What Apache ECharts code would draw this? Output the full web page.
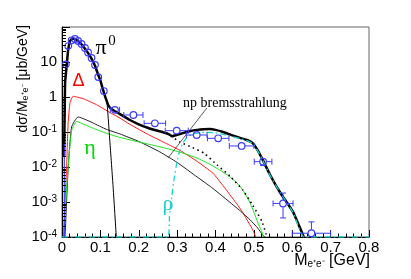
<!DOCTYPE html>
<html><head><meta charset="utf-8">
<script src="https://cdn.jsdelivr.net/npm/echarts@6.0.0/dist/echarts.min.js"></script>
<style>html,body{margin:0;padding:0;background:#fff}#c{width:411px;height:279px}</style>
</head><body><div id="c"></div>
<script>
// ---- tick labels ----
const xTickValues = [0, 0.1, 0.2, 0.3, 0.4, 0.5, 0.6, 0.7, 0.8];
const xTickLabels = ['0', '0.1', '0.2', '0.3', '0.4', '0.5', '0.6', '0.7', '0.8'];
const yTickExps = [-4, -3, -2, -1, 0, 1, 2];
const yTickLabels = ['10^-4', '10^-3', '10^-2', '10^-1', '1', '10', ''];

// ---- model curves [M (GeV), dσ/dM (µb/GeV)] ----
const totalCurve = [[0.0055,0.02],[0.008,2.5],[0.012,7.5],[0.016,22],[0.021,40],[0.027,47],[0.034,45],[0.042,39],[0.051,32],[0.06,24],[0.068,18],[0.077,12.5],[0.086,7.8],[0.094,4.4],[0.1,3.0],[0.105,1.9],[0.11,1.25],[0.115,0.85],[0.12,0.6],[0.126,0.48],[0.135,0.41],[0.15,0.33],[0.177,0.22],[0.2,0.165],[0.225,0.13],[0.247,0.11],[0.265,0.097],[0.279,0.086],[0.287,0.076],[0.3,0.083],[0.315,0.093],[0.335,0.107],[0.352,0.115],[0.37,0.12],[0.385,0.121],[0.4,0.115],[0.42,0.1],[0.44,0.083],[0.464,0.068],[0.48,0.06],[0.497,0.048],[0.51,0.03],[0.523,0.016],[0.542,0.006],[0.568,0.0019],[0.602,0.00052],[0.63,0.0001]];
const pi0Curve = [[0.0055,0.02],[0.008,2.4],[0.012,7.3],[0.016,21],[0.021,39],[0.027,46],[0.034,44],[0.042,38],[0.051,31],[0.06,23],[0.068,17.5],[0.077,12],[0.086,7.5],[0.094,4.2],[0.1,2.9],[0.105,1.8],[0.11,1.2],[0.117,0.75],[0.125,0.049],[0.133,0.0029],[0.1415,0.0001]];
const deltaCurve = [[0.004,0.0001],[0.012,0.01],[0.016,0.18],[0.021,0.7],[0.029,1.05],[0.038,1.0],[0.055,0.9],[0.09,0.6],[0.125,0.36],[0.151,0.25],[0.177,0.165],[0.229,0.08],[0.27,0.048],[0.307,0.03],[0.35,0.015],[0.393,0.0067],[0.42,0.0029],[0.4375,0.0016],[0.455,0.0009],[0.471,0.0005],[0.487,0.00025],[0.497,0.00016],[0.505,0.0001]];
const npCurve = [[0.008,0.0001],[0.016,0.009],[0.025,0.14],[0.042,0.27],[0.06,0.23],[0.0815,0.18],[0.115,0.12],[0.151,0.088],[0.203,0.052],[0.255,0.027],[0.3,0.0135],[0.352,0.0052],[0.39,0.0026],[0.43,0.00115],[0.465,0.00055],[0.49,0.00031],[0.51,0.00018],[0.523,0.000114],[0.529,0.0001]];
const etaCurve = [[0.005,0.0001],[0.01,0.0011],[0.016,0.01],[0.025,0.11],[0.038,0.2],[0.06,0.16],[0.0815,0.128],[0.115,0.092],[0.151,0.07],[0.2,0.052],[0.263,0.036],[0.31,0.026],[0.352,0.018],[0.385,0.012],[0.411,0.0082],[0.435,0.0055],[0.456,0.0035],[0.47,0.0023],[0.482,0.0014],[0.493,0.0008],[0.503,0.00042],[0.513,0.00022],[0.521,0.00014],[0.524,0.0001]];
const noRhoCurve = [[0.273,0.093],[0.286,0.074],[0.307,0.052],[0.34,0.036],[0.37,0.025],[0.404,0.0115],[0.4375,0.0055],[0.471,0.0022],[0.497,0.0008],[0.521,0.00028],[0.534,0.0001]];
const rhoCurve = [[0,0.0001],[0.276,0.0001],[0.28,0.0004],[0.286,0.0014],[0.292,0.0045],[0.299,0.013],[0.307,0.03],[0.315,0.049],[0.328,0.075],[0.345,0.09],[0.37,0.098],[0.398,0.095],[0.42,0.086],[0.4375,0.077],[0.464,0.065],[0.48,0.058],[0.497,0.047],[0.51,0.029],[0.523,0.0155],[0.542,0.0058],[0.568,0.0019],[0.602,0.00051],[0.63,0.0001],[0.8,0.0001]];

// ---- measured points ----
const obsM    = [0.006, 0.01, 0.0164, 0.025, 0.034, 0.042, 0.051, 0.06, 0.068, 0.077, 0.086, 0.0945, 0.109, 0.138, 0.186, 0.242, 0.299, 0.351, 0.407, 0.468, 0.524, 0.576, 0.65];
const obsY    = [0.00005, 8.5, 28.6, 41.7, 45.4, 39.8, 32.7, 25.1, 18.7, 13, 8.2, 3.7, 1.48, 0.43, 0.306, 0.177, 0.109, 0.082, 0.066, 0.04, 0.0142, 0.00091, 0.000128];
const obsMErr = [0.003, 0.003, 0.003, 0.004, 0.004, 0.004, 0.004, 0.004, 0.004, 0.004, 0.004, 0.004, 0.005, 0.012, 0.025, 0.028, 0.03, 0.027, 0.028, 0.032, 0.023, 0.026, 0.05];
const obsYLo  = [0.00001, 8, 27.5, 40.5, 44, 38.5, 31.5, 24, 18, 12.4, 7.8, 3.5, 1.4, 0.4, 0.29, 0.168, 0.103, 0.077, 0.061, 0.036, 0.011, 0.00035, 0.00001];
const obsYHi  = [0.049, 9, 29.7, 43, 46.8, 41, 34, 26.2, 19.4, 13.6, 8.6, 3.9, 1.56, 0.46, 0.322, 0.186, 0.115, 0.087, 0.071, 0.044, 0.018, 0.0018, 0.00027];

// ---- annotation leader (data coords) ----
const leaderLine = [[0.3776, 0.485], [0.276, 0.018]];

const Y_MIN = 1e-4, Y_MAX = 100;
const yMinorVals = [];
for (let e = -4; e < 2; e++) for (let k = 2; k <= 9; k++) yMinorVals.push(k * Math.pow(10, e));

const BLUE = '#3b3bff', RED = '#ff1a1a', GREEN = '#1ee01e', CYAN = '#19d4d4';
const SANS = '"Liberation Sans", Arial, sans-serif';
const SERIF = '"Liberation Serif", "Times New Roman", serif';

function lineSeries(data, color, width, type, z, smooth) {
  return { type: 'line', data, showSymbol: false, symbol: 'none', smooth: smooth == null ? 0.15 : smooth,
    lineStyle: { color, width, type: type || 'solid', join: 'round' }, z: z || 2, silent: true, animation: false };
}

const chart = echarts.init(document.getElementById('c'), null, { renderer: 'canvas' });
chart.setOption({
  animation: false,
  backgroundColor: '#fff',
  grid: { left: 62, top: 27, right: 42, bottom: 42, show: true, borderColor: '#666', borderWidth: 1, backgroundColor: 'transparent' },
  xAxis: {
    type: 'value', min: 0, max: 0.8, interval: 0.1,
    axisLine: { lineStyle: { color: '#000', width: 1 } },
    axisTick: { inside: true, length: 7, lineStyle: { color: '#000' } },
    minorTick: { show: true, splitNumber: 5, length: 3.5, lineStyle: { color: '#000' } },
    splitLine: { show: false },
    axisLabel: { margin: 3, fontFamily: SANS, fontSize: 15, color: '#000',
      formatter: v => { const i = xTickValues.findIndex(t => Math.abs(t - v) < 1e-6); return i >= 0 ? xTickLabels[i] : ''; } }
  },
  yAxis: {
    type: 'log', logBase: 10, min: Y_MIN, max: Y_MAX,
    axisLine: { lineStyle: { color: '#000', width: 1 } },
    axisTick: { inside: true, length: 8, lineStyle: { color: '#000' } },
    splitLine: { show: false },
    axisLabel: { margin: 5, fontFamily: SANS, color: '#000',
      formatter: v => {
        const e = Math.round(Math.log10(v));
        const i = yTickExps.indexOf(e);
        const s = i >= 0 ? yTickLabels[i] : '';
        if (!s) return '';
        if (s.indexOf('^') < 0) return '{b|' + s + '}';
        const p = s.split('^');
        return '{b|' + p[0] + '}{s|' + p[1] + '}';
      },
      rich: {
        b: { fontFamily: SANS, fontSize: 15, color: '#000', verticalAlign: 'bottom', lineHeight: 15 },
        s: { fontFamily: SANS, fontSize: 10, color: '#000', verticalAlign: 'top', lineHeight: 10, padding: [0, 0, 8, 0] }
      }
    }
  },
  graphic: [
    { type: 'text', x: 23, y: 25, rotation: Math.PI / 2, z: 100,
      style: { text: '{m|dσ/M}{sub|e⁺e⁻}{m| [μb/GeV]}', align: 'right', verticalAlign: 'middle',
        rich: { m: { fontFamily: SANS, fontSize: 14, color: '#000', verticalAlign: 'top', lineHeight: 14 },
                sub: { fontFamily: SANS, fontSize: 9, color: '#000', verticalAlign: 'bottom', lineHeight: 9, padding: [5, 0, 0, 0] } } } },
    { type: 'text', x: 370, y: 261, z: 100,
      style: { text: '{m|M}{sub|e⁺e⁻}{m| [GeV]}', align: 'right', verticalAlign: 'middle',
        rich: { m: { fontFamily: SANS, fontSize: 16, color: '#000', verticalAlign: 'top', lineHeight: 16 },
                sub: { fontFamily: SANS, fontSize: 10, color: '#000', verticalAlign: 'bottom', lineHeight: 10, padding: [7, 0, 0, 0] } } } },
    { type: 'text', x: 101, y: 48, z: 100, style: { text: 'π', fontFamily: SERIF, fontSize: 22, fill: '#000', align: 'center', verticalAlign: 'middle' } },
    { type: 'text', x: 112, y: 41, z: 100, style: { text: '0', fontFamily: SERIF, fontSize: 15, fill: '#000', align: 'center', verticalAlign: 'middle' } },
    { type: 'text', x: 78.5, y: 81, z: 100, style: { text: 'Δ', fontFamily: SANS, fontSize: 18, fill: '#ff0000', align: 'center', verticalAlign: 'middle' } },
    { type: 'text', x: 90, y: 148, z: 100, style: { text: 'η', fontFamily: SERIF, fontSize: 22, fill: '#00dd00', align: 'center', verticalAlign: 'middle' } },
    { type: 'text', x: 168, y: 204, z: 100, style: { text: 'ρ', fontFamily: SERIF, fontSize: 22, fill: '#22cccc', align: 'center', verticalAlign: 'middle' } },
    { type: 'text', x: 183, y: 103, z: 100, style: { text: 'np bremsstrahlung', fontFamily: SERIF, fontSize: 14, fill: '#000', align: 'left', verticalAlign: 'middle' } }
  ],
  series: [
    lineSeries(deltaCurve, RED, 1, 'solid', 2),
    lineSeries(npCurve, '#222', 1, 'solid', 2),
    lineSeries(etaCurve, GREEN, 1, 'solid', 2),
    lineSeries(noRhoCurve, '#000', 1.6, [1.5, 3.5], 3),
    lineSeries(pi0Curve, '#000', 1, 'solid', 3, 0.1),
    lineSeries(totalCurve, '#000', 2.5, 'solid', 4, 0.12),
    lineSeries(rhoCurve, CYAN, 1.3, [6, 3, 1.5, 3], 5, 0.1),
    lineSeries(leaderLine, '#333', 0.8, 'solid', 6, false),
    {
      type: 'custom', z: 8, silent: true, animation: false, clip: true,
      data: obsM.map((m, i) => [m, obsY[i], obsMErr[i], obsYLo[i], obsYHi[i]]),
      renderItem: (params, api) => {
        const m = api.value(0), y = api.value(1), ex = api.value(2), ylo = api.value(3), yhi = api.value(4);
        const yc = Math.max(y, Y_MIN);
        const c = api.coord([m, yc]);
        const xl = api.coord([m - ex, yc])[0], xr = api.coord([m + ex, yc])[0];
        const yt = api.coord([m, yhi])[1], yb = api.coord([m, Math.max(ylo, Y_MIN)])[1];
        const r = 3.3, cap = 3;
        const st = { stroke: BLUE, lineWidth: 1, fill: null };
        const ch = [];
        const visible = y >= Y_MIN;
        if (visible) {
          if (c[0] - xl > r + 0.5) {
            ch.push({ type: 'line', shape: { x1: xl, y1: c[1], x2: c[0] - r, y2: c[1] }, style: st });
            ch.push({ type: 'line', shape: { x1: c[0] + r, y1: c[1], x2: xr, y2: c[1] }, style: st });
            ch.push({ type: 'line', shape: { x1: xl, y1: c[1] - cap, x2: xl, y2: c[1] + cap }, style: st });
            ch.push({ type: 'line', shape: { x1: xr, y1: c[1] - cap, x2: xr, y2: c[1] + cap }, style: st });
          }
          if (c[1] - yt > r + 0.5) {
            ch.push({ type: 'line', shape: { x1: c[0], y1: yt, x2: c[0], y2: c[1] - r }, style: st });
            ch.push({ type: 'line', shape: { x1: c[0] - cap, y1: yt, x2: c[0] + cap, y2: yt }, style: st });
          }
          if (yb - c[1] > r + 0.5) {
            ch.push({ type: 'line', shape: { x1: c[0], y1: c[1] + r, x2: c[0], y2: yb }, style: st });
            if (ylo >= Y_MIN) ch.push({ type: 'line', shape: { x1: c[0] - cap, y1: yb, x2: c[0] + cap, y2: yb }, style: st });
          }
          ch.push({ type: 'circle', shape: { cx: c[0], cy: c[1], r }, style: { stroke: BLUE, lineWidth: 1.2, fill: 'rgba(0,0,0,0)' } });
        } else {
          ch.push({ type: 'line', shape: { x1: c[0], y1: yt, x2: c[0], y2: yb }, style: { stroke: BLUE, lineWidth: 1.2 } });
        }
        return { type: 'group', children: ch };
      }
    },
    {
      type: 'custom', z: 9, silent: true, animation: false,
      data: yMinorVals.map(v => [0, v]),
      renderItem: (params, api) => {
        const p = api.coord([0, api.value(1)]);
        const yy = Math.round(p[1]) + 0.5;
        return { type: 'line', shape: { x1: p[0], y1: yy, x2: p[0] + 4, y2: yy }, style: { stroke: '#000', lineWidth: 1 } };
      }
    }
  ]
});
</script>
</body></html>
